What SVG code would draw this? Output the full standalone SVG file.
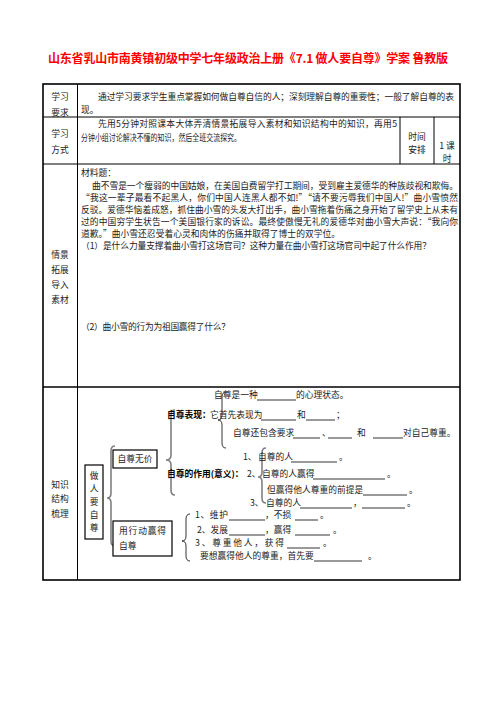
<svg xmlns="http://www.w3.org/2000/svg" width="496" height="702" viewBox="0 0 496 702">
<style>
text{font-family:"Noto Sans CJK SC","Liberation Sans",sans-serif;font-size:8.75px;fill:#222}
.t{font-size:12px;font-weight:bold;fill:#ff0000}
.c{text-anchor:middle}
.b{font-weight:bold;fill:#000}
.grid{stroke:#000;stroke-width:1;fill:none}
.outer{stroke:#000;stroke-width:1.6;fill:none}
.box{stroke:#000;stroke-width:1.2;fill:#fff}
.bl{stroke:#000;stroke-width:0.8}
.br{stroke:#000;stroke-width:0.8;fill:none}
.bg{stroke:#808080;stroke-width:1.6;fill:none}
</style>
<rect width="496" height="702" fill="#fff"/>
<text id="title" class="t c" x="248" y="63" textLength="400" lengthAdjust="spacing">山东省乳山市南黄镇初级中学七年级政治上册《7.1 做人要自尊》学案 鲁教版</text>

<g id="table">
<rect class="outer" x="43" y="84" width="417" height="496"/>
<line class="grid" x1="77.5" y1="84" x2="77.5" y2="580"/>
<line class="grid" x1="43" y1="117" x2="460" y2="117"/>
<line class="grid" x1="43" y1="164" x2="460" y2="164"/>
<line class="outer" x1="43" y1="387" x2="460" y2="387"/>
<line class="grid" x1="400" y1="117" x2="400" y2="164"/>
<line class="grid" x1="434" y1="117" x2="434" y2="164"/>
</g>

<g id="row1">
<text class="c" x="60" y="99.5">学习</text>
<text class="c" x="60" y="115.5">要求</text>
<text x="98" y="99.5" textLength="356" lengthAdjust="spacing">通过学习要求学生重点掌握如何做自尊自信的人；深刻理解自尊的重要性；一般了解自尊的表</text>
<text x="81" y="112.5">现。</text>
</g>

<g id="row2">
<text class="c" x="60" y="137">学习</text>
<text class="c" x="60" y="153">方式</text>
<text x="98" y="126.5" textLength="299" lengthAdjust="spacing">先用5分钟对照课本大体弄清情景拓展导入素材和知识结构中的知识，再用5</text>
<text x="81" y="141" textLength="160" lengthAdjust="spacingAndGlyphs">分钟小组讨论解决不懂的知识，然后全班交流探究。</text>
<text class="c" x="417" y="140">时间</text>
<text class="c" x="417" y="153">安排</text>
<text class="c" x="447" y="148.5">1 课</text>
<text class="c" x="447" y="162">时</text>
</g>

<g id="row3">
<text class="c" x="60" y="258">情景</text>
<text class="c" x="60" y="273">拓展</text>
<text class="c" x="60" y="288">导入</text>
<text class="c" x="60" y="303">素材</text>
<text x="81" y="175.5">材料题：</text>
<text x="92" y="189" textLength="366" lengthAdjust="spacing">曲不雪是一个瘦弱的中国姑娘，在美国自费留学打工期间，受到雇主爱德华的种族歧视和欺侮。</text>
<text x="81" y="201" textLength="377" lengthAdjust="spacing">“我这一辈子最看不起黑人，你们中国人连黑人都不如!”“请不要污辱我们中国人!”曲小雪愤然</text>
<text x="81" y="213" textLength="377" lengthAdjust="spacing">反驳。爱德华恼羞成怒，抓住曲小雪的头发大打出手，曲小雪拖着伤痛之身开始了留学史上从未有</text>
<text x="81" y="225" textLength="377" lengthAdjust="spacing">过的中国穷学生状告一个美国银行家的诉讼。最终使傲慢无礼的爱德华对曲小雪大声说：“我向你</text>
<text x="81" y="237" textLength="259" lengthAdjust="spacing">道歉。”曲小雪还忍受着心灵和肉体的伤痛并取得了博士的双学位。</text>
<text x="81" y="249" textLength="350" lengthAdjust="spacing">（1）是什么力量支撑着曲小雪打这场官司？这种力量在曲小雪打这场官司中起了什么作用？</text>
<text x="81" y="330" textLength="149" lengthAdjust="spacing">（2）曲小雪的行为为祖国赢得了什么？</text>
</g>

<g id="row4label">
<text class="c" x="60" y="487.5">知识</text>
<text class="c" x="60" y="502">结构</text>
<text class="c" x="60" y="517">梳理</text>
</g>

<g id="connectors">
<path class="bg" d="M115,446 Q111,446 111,451 L111,493 Q111,498 107,498 Q111,498 111,503 L111,541 Q111,546 115,546"/>
<path class="bg" d="M175,410 Q171,410 171,415 L171,455 Q171,460 166,460 Q171,460 171,465 L171,490 Q171,495 175,495"/>
<path class="br" d="M226,392 Q222,392 222,397 L222,415 Q222,420 218,420 Q222,420 222,425 L222,443 Q222,448 226,448"/>
<path class="bg" d="M266,448 Q262,448 262,453 L262,472 Q262,477 258,477 Q262,477 262,482 L262,498 Q262,503 266,503"/>
<path class="br" d="M190,514 Q186,514 186,519 L186,536 Q186,541 182,541 Q186,541 186,546 L186,556 Q186,561 190,561"/>
</g>

<g id="node-zuoren">
<rect class="box" x="85" y="465" width="18" height="74"/>
<text class="c" x="94" y="479">做</text>
<text class="c" x="94" y="492">人</text>
<text class="c" x="94" y="505">要</text>
<text class="c" x="94" y="518">自</text>
<text class="c" x="94" y="531">尊</text>
</g>

<g id="node-wujia">
<rect class="box" x="113" y="450" width="44" height="18"/>
<text class="c" x="135" y="462">自尊无价</text>
</g>

<g id="node-xingdong">
<rect class="box" x="113" y="521" width="59" height="35"/>
<text x="119" y="534" textLength="47" lengthAdjust="spacing">用行动赢得</text>
<text x="119" y="549">自尊</text>
</g>

<g id="node-biaoxian">
<text x="214" y="398">自尊是一种</text>
<line class="bl" x1="257" y1="400" x2="296" y2="400"/>
<text x="296" y="398">的心理状态。</text>
<text class="b" x="167" y="418">自尊表现：</text>
<text x="210" y="418">它首先表现为</text>
<line class="bl" x1="261" y1="420" x2="296" y2="420"/>
<text x="297" y="418">和</text>
<line class="bl" x1="306" y1="420" x2="335" y2="420"/>
<text x="336" y="418">；</text>
<text x="233" y="436">自尊还包含要求</text>
<line class="bl" x1="293" y1="438" x2="320" y2="438"/>
<text x="322" y="436">、</text>
<line class="bl" x1="328" y1="438" x2="352" y2="438"/>
<text x="357" y="436">和</text>
<line class="bl" x1="373" y1="438" x2="403" y2="438"/>
<text x="403" y="436">对自己尊重。</text>
</g>

<g id="node-zuoyong">
<text class="b" x="167" y="477">自尊的作用(意义)：</text>
<text x="243" y="460">1、</text>
<text x="258" y="460">自尊的人</text>
<line class="bl" x1="291" y1="462" x2="337" y2="462"/>
<text x="339" y="460">。</text>
<text x="247" y="477">2、</text>
<text x="262" y="477">自尊的人赢得</text>
<line class="bl" x1="313" y1="479" x2="385" y2="479"/>
<text x="387" y="477">。</text>
<text x="267" y="493">但赢得他人尊重的前提是</text>
<line class="bl" x1="363" y1="495" x2="407" y2="495"/>
<text x="409" y="493">。</text>
<text x="250" y="506">3、</text>
<text x="266" y="506">自尊的人</text>
<line class="bl" x1="300" y1="508" x2="352" y2="508"/>
<text x="353" y="506">，</text>
<line class="bl" x1="362" y1="508" x2="405" y2="508"/>
<text x="407" y="506">。</text>
</g>

<g id="node-yingde">
<text x="195" y="518" textLength="33" lengthAdjust="spacing">1、维护</text>
<line class="bl" x1="229" y1="520" x2="265" y2="520"/>
<text x="265" y="518">，不损</text>
<line class="bl" x1="295" y1="520" x2="318" y2="520"/>
<text x="320" y="518">。</text>
<text x="197" y="533" textLength="31" lengthAdjust="spacing">2、发展</text>
<line class="bl" x1="229" y1="535" x2="265" y2="535"/>
<text x="265" y="533">，赢得</text>
<line class="bl" x1="295" y1="535" x2="330" y2="535"/>
<text x="333" y="533">。</text>
<text x="195" y="546" textLength="89" lengthAdjust="spacing">3、尊重他人，获得</text>
<line class="bl" x1="287" y1="548" x2="320" y2="548"/>
<text x="323" y="546">。</text>
<text x="200" y="559">要想赢得他人的尊重，首先要</text>
<line class="bl" x1="314" y1="561" x2="362" y2="561"/>
<text x="368" y="559">。</text>
</g>
</svg>
